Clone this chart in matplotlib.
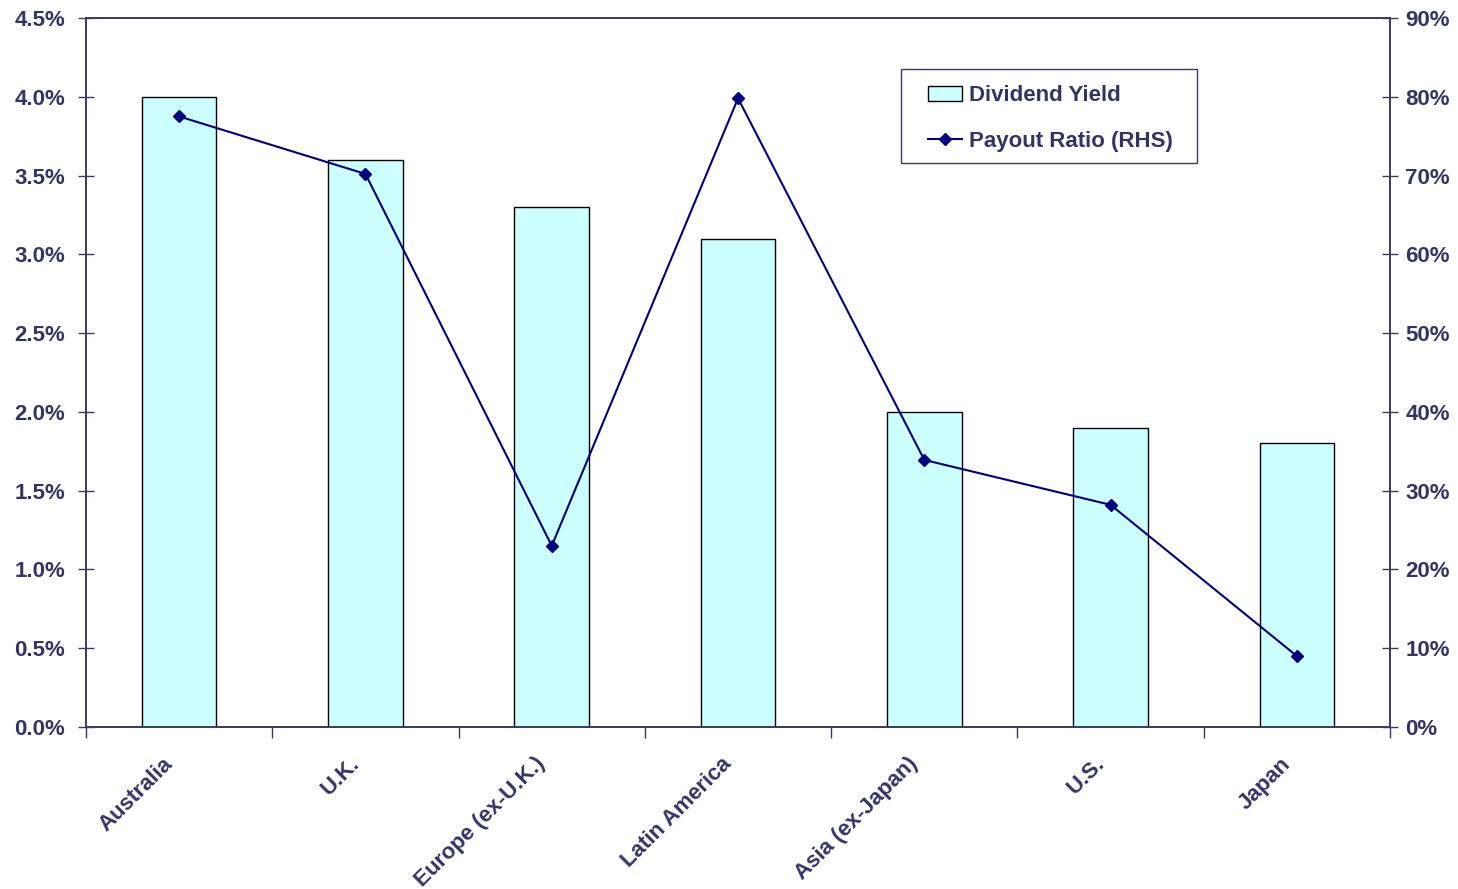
import matplotlib.pyplot as plt
from matplotlib.ticker import FuncFormatter, MultipleLocator
from matplotlib.transforms import ScaledTranslation
from matplotlib.patches import Rectangle
import numpy as np

# Données
regions = ['Australia', 'U.K.', 'Europe (ex-U.K.)', 'Latin America',
           'Asia (ex-Japan)', 'U.S.', 'Japan']
dividend_yield = [4.0, 3.6, 3.3, 3.1, 2.0, 1.9, 1.8]   # en %
payout_ratio = [77.5, 70.2, 23.0, 79.8, 33.9, 28.2, 9.0]  # en %

text_col = '#333366'
axis_col = '#3a3a5c'
plt.rcParams['font.family'] = ['Liberation Sans', 'DejaVu Sans']

fig = plt.figure(figsize=(14.58, 8.89), dpi=100)
ax = fig.add_axes([0.059, 0.1822, 0.8944, 0.7976])
x = np.arange(len(regions))

bars = ax.bar(x, dividend_yield, width=0.4, color='#ccffff', edgecolor='black',
              linewidth=1.0, label='Dividend Yield', zorder=2)
ax.set_xlim(-0.5, len(regions) - 0.5)
ax.set_ylim(0, 4.5)
ax.yaxis.set_major_locator(MultipleLocator(0.5))
ax.yaxis.set_major_formatter(FuncFormatter(lambda v, p: f'{v:.1f}%'))

ax2 = ax.twinx()
line, = ax2.plot(x, payout_ratio, color='#000080', marker='D', markersize=6.5,
                 linewidth=1.5, label='Payout Ratio (RHS)', zorder=3)
ax2.set_ylim(0, 90)
ax2.yaxis.set_major_locator(MultipleLocator(10))
ax2.yaxis.set_major_formatter(FuncFormatter(lambda v, p: f'{v:.0f}%'))

# Axes et graduations
for a in (ax, ax2):
    for s in a.spines.values():
        s.set_color(axis_col)
        s.set_linewidth(1.2)
ax.set_xticks(np.arange(-0.5, len(regions)), minor=False)
ax.set_xticklabels([])
ax.tick_params(axis='x', direction='out', length=8, color=axis_col, width=1)
ax.set_xticks(x, minor=True)
ax.set_xticklabels(regions, minor=True, rotation=45, ha='right',
                   rotation_mode='anchor', fontsize=16, fontweight='bold',
                   color=text_col)
ax.tick_params(axis='x', which='minor', length=0, pad=19)
shift = ScaledTranslation(-17 / 100, 0, fig.dpi_scale_trans)
for lab in ax.get_xticklabels(minor=True):
    lab.set_transform(lab.get_transform() + shift)
ax.tick_params(axis='y', direction='inout', length=12, color=axis_col,
               width=1, labelsize=16, labelcolor=text_col, pad=9)
ax2.tick_params(axis='y', direction='inout', length=12, color=axis_col,
                width=1, labelsize=16, labelcolor=text_col, pad=5)
for lab in ax.get_yticklabels() + ax2.get_yticklabels():
    lab.set_fontweight('bold')

# Légende : cadre dessiné à part pour garder les marges d'Excel
ax2.add_patch(Rectangle((0.625, 0.7955), 0.227, 0.1326, transform=ax2.transAxes,
                        facecolor='white', edgecolor=axis_col, linewidth=1.0,
                        zorder=9))
leg = ax2.legend([bars, line], ['Dividend Yield', 'Payout Ratio (RHS)'],
                 loc='upper left', bbox_to_anchor=(0.6457, 0.905),
                 frameon=False, prop={'weight': 'bold', 'size': 16},
                 labelspacing=1.1, handlelength=1.55, handletextpad=0.3,
                 borderpad=0, borderaxespad=0)
for t in leg.get_texts():
    t.set_color(text_col)
leg.set_zorder(10)

plt.savefig('out.png', dpi=100)
